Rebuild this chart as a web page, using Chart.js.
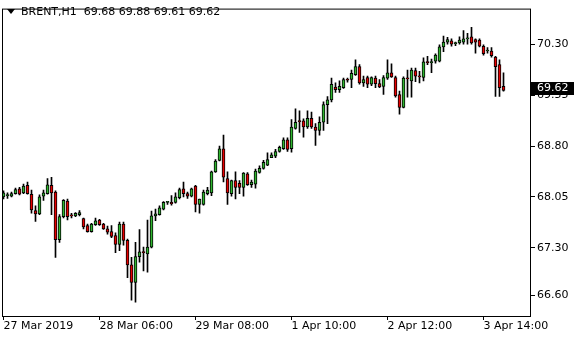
<!DOCTYPE html>
<html>
<head>
<meta charset="utf-8">
<script src="https://cdn.jsdelivr.net/npm/chart.js@4.4.1/dist/chart.umd.min.js"></script>
<style>
  html, body { margin: 0; padding: 0; background: #fff; }
</style>
</head>
<body>
<canvas id="grafico" width="580" height="340"></canvas>
<script>
// Velas H1 de BRENT (apertura, maximo, minimo, cierre)
const aperturas = [
  68.05, 68.07, 68.06, 68.10, 68.17, 68.11, 68.22, 68.09, 67.85, 67.80,
  68.06, 68.10, 68.22, 68.12, 67.42, 67.76, 67.99, 67.78, 67.77, 67.79,
  67.73, 67.63, 67.54, 67.64, 67.71, 67.65, 67.58, 67.54, 67.48, 67.35,
  67.65, 67.41, 67.05, 66.79, 67.17, 67.24, 67.21, 67.31, 67.77, 67.79,
  67.87, 67.97, 67.97, 67.97, 68.04, 68.17, 68.10, 68.06, 68.21, 67.94,
  67.94, 68.10, 68.11, 68.42, 68.59, 68.76, 68.32, 68.10, 68.29, 68.25,
  68.19, 68.39, 68.23, 68.24, 68.41, 68.47, 68.52, 68.63, 68.65, 68.72,
  68.76, 68.89, 68.76, 69.06, 69.17, 69.17, 69.08, 69.21, 69.08, 69.03,
  69.15, 69.41, 69.48, 69.67, 69.63, 69.66, 69.78, 69.78, 69.85, 69.97,
  69.73, 69.81, 69.71, 69.80, 69.72, 69.68, 69.80, 69.88, 69.81, 69.56,
  69.37, 69.80, 69.76, 69.91, 69.83, 69.81, 70.04, 70.03, 70.05, 70.05,
  70.26, 70.33, 70.35, 70.31, 70.32, 70.33, 70.38, 70.41, 70.37, 70.36,
  70.27, 70.20, 70.20, 70.11, 70.00, 69.68
];
const maximos = [
  68.14, 68.11, 68.12, 68.18, 68.19, 68.24, 68.27, 68.15, 67.92, 68.08,
  68.15, 68.32, 68.34, 68.14, 67.79, 68.01, 68.02, 67.81, 67.82, 67.85,
  67.74, 67.65, 67.66, 67.74, 67.72, 67.66, 67.62, 67.63, 67.52, 67.68,
  67.68, 67.43, 67.16, 67.38, 67.57, 67.31, 67.71, 67.84, 67.87, 67.92,
  67.98, 67.98, 68.07, 68.11, 68.18, 68.27, 68.12, 68.18, 68.22, 68.02,
  68.15, 68.19, 68.43, 68.60, 68.80, 68.96, 68.42, 68.30, 68.42, 68.29,
  68.41, 68.41, 68.30, 68.46, 68.51, 68.59, 68.70, 68.70, 68.75, 68.80,
  68.92, 68.92, 69.19, 69.35, 69.32, 69.20, 69.32, 69.30, 69.13, 69.23,
  69.45, 69.53, 69.80, 69.73, 69.76, 69.80, 69.80, 69.92, 70.07, 70.00,
  69.83, 69.83, 69.82, 69.83, 69.78, 69.84, 70.07, 70.01, 69.83, 69.61,
  69.82, 69.92, 69.95, 69.95, 69.90, 70.10, 70.12, 70.08, 70.16, 70.29,
  70.42, 70.40, 70.38, 70.33, 70.41, 70.50, 70.46, 70.55, 70.38, 70.38,
  70.29, 70.25, 70.25, 70.12, 70.07, 69.88
];
const minimos = [
  68.02, 68.03, 68.05, 68.09, 68.08, 68.10, 68.09, 67.81, 67.69, 67.79,
  68.00, 68.09, 67.79, 67.16, 67.38, 67.74, 67.71, 67.74, 67.76, 67.77,
  67.58, 67.53, 67.53, 67.63, 67.63, 67.57, 67.50, 67.45, 67.23, 67.26,
  67.34, 66.86, 66.53, 66.50, 67.09, 66.96, 66.94, 67.30, 67.70, 67.78,
  67.86, 67.94, 67.93, 67.96, 68.02, 68.05, 68.03, 68.05, 67.83, 67.81,
  67.93, 68.08, 68.07, 68.41, 68.58, 68.27, 67.94, 68.06, 68.02, 68.10,
  68.06, 68.22, 68.19, 68.18, 68.40, 68.46, 68.51, 68.63, 68.63, 68.71,
  68.75, 68.72, 68.71, 69.05, 69.00, 68.93, 69.06, 69.06, 68.81, 68.96,
  69.03, 69.13, 69.45, 69.59, 69.59, 69.65, 69.74, 69.66, 69.84, 69.71,
  69.68, 69.66, 69.69, 69.66, 69.66, 69.56, 69.78, 69.81, 69.52, 69.27,
  69.36, 69.52, 69.52, 69.75, 69.73, 69.76, 70.00, 69.88, 70.02, 70.04,
  70.19, 70.30, 70.27, 70.28, 70.30, 70.30, 70.30, 70.30, 70.17, 70.26,
  70.14, 70.17, 70.11, 69.53, 69.53, 69.61
];
const cierres = [
  68.11, 68.08, 68.10, 68.16, 68.09, 68.21, 68.10, 67.86, 67.80, 68.05,
  68.11, 68.23, 68.11, 67.42, 67.76, 68.00, 67.76, 67.77, 67.81, 67.82,
  67.61, 67.54, 67.65, 67.70, 67.64, 67.58, 67.53, 67.47, 67.35, 67.65,
  67.41, 67.05, 66.79, 67.17, 67.24, 67.23, 67.31, 67.77, 67.80, 67.89,
  67.97, 67.975, 67.95, 68.05, 68.16, 68.10, 68.06, 68.17, 67.94, 68.02,
  68.12, 68.15, 68.42, 68.58, 68.76, 68.34, 68.11, 68.29, 68.19, 68.19,
  68.40, 68.23, 68.27, 68.43, 68.47, 68.56, 68.60, 68.67, 68.72, 68.78,
  68.89, 68.75, 69.08, 69.15, 69.16, 69.08, 69.21, 69.08, 69.03, 69.15,
  69.41, 69.48, 69.71, 69.63, 69.68, 69.78, 69.77, 69.87, 69.97, 69.73,
  69.78, 69.71, 69.81, 69.72, 69.67, 69.81, 69.88, 69.82, 69.54, 69.37,
  69.80, 69.79, 69.92, 69.83, 69.82, 70.04, 70.03, 70.035, 70.14, 70.26,
  70.33, 70.37, 70.30, 70.31, 70.36, 70.38, 70.38, 70.32, 70.33, 70.27,
  70.16, 70.20, 70.13, 69.97, 69.66, 69.62
];

// Etiquetas del eje de tiempo (indice de vela y texto)
const marcasX = [0, 24, 48, 72, 96, 120];
const textosX = ["27 Mar 2019", "28 Mar 06:00", "29 Mar 08:00", "1 Apr 10:00", "2 Apr 12:00", "3 Apr 14:00"];
// Niveles del eje de precios
const marcasY = [66.60, 67.30, 68.05, 68.80, 69.55, 70.30];

const simbolo = "BRENT,H1";
const precioActual = 69.62;

const VERDE = "#2fb52f";
const ROJO = "#e60000";
const FUENTE = "DejaVu Sans";

const indices = aperturas.map((_, i) => i);
const cuerpos = indices.map(i => ({ x: i, y: [aperturas[i], cierres[i]] }));
const mechas = indices.map(i => ({ x: i, y: [minimos[i], maximos[i]] }));
const colores = indices.map(i => cierres[i] >= aperturas[i] ? VERDE : ROJO);

// Marco, cabecera y etiqueta del precio actual
const decorado = {
    id: "decorado",
    afterDraw(chart) {
        const ctx = chart.ctx;
        const a = chart.chartArea;
        ctx.save();
        ctx.strokeStyle = "#000";
        ctx.lineWidth = 1;
        ctx.strokeRect(a.left + 0.5, a.top + 0.5, a.right - a.left - 1, a.bottom - a.top);

        // triangulo de la cabecera
        ctx.fillStyle = "#000";
        ctx.beginPath();
        ctx.moveTo(7, 9);
        ctx.lineTo(15, 9);
        ctx.lineTo(11, 14);
        ctx.closePath();
        ctx.fill();

        const n = aperturas.length - 1;
        const cab = simbolo + "  " + [aperturas[n], maximos[n], minimos[n], cierres[n]].map(v => v.toFixed(2)).join(" ");
        ctx.font = "11px '" + FUENTE + "'";
        ctx.textBaseline = "middle";
        ctx.textAlign = "left";
        ctx.fillText(cab, 21, 12.5);

        // precio actual
        const yp = Math.round(chart.scales.y.getPixelForValue(precioActual));
        ctx.fillStyle = "#000";
        ctx.fillRect(a.right, yp - 8, 43, 13);
        ctx.fillStyle = "#fff";
        ctx.fillText(precioActual.toFixed(2), a.right + 6, yp - 1.5);
        ctx.restore();
    }
};

new Chart(document.getElementById("grafico"), {
    type: "bar",
    data: {
        datasets: [
            {
                data: mechas,
                backgroundColor: "#000",
                borderWidth: 0,
                barThickness: 1,
                grouped: false,
                order: 2
            },
            {
                data: cuerpos,
                backgroundColor: colores,
                borderColor: "#000",
                borderWidth: 1,
                borderSkipped: false,
                barThickness: 3,
                minBarLength: 1,
                grouped: false,
                order: 1
            }
        ]
    },
    options: {
        responsive: false,
        animation: false,
        layout: { padding: { left: 2, top: 3, right: 0, bottom: 0 } },
        plugins: { legend: { display: false }, tooltip: { enabled: false } },
        scales: {
            x: {
                type: "linear",
                min: -0.375,
                max: 131.875,
                offset: false,
                afterBuildTicks: s => { s.ticks = marcasX.map(v => ({ value: v })); },
                afterFit: s => { s.height = 24; },
                grid: { display: true, offset: false, drawOnChartArea: false, drawTicks: true, tickLength: 4, tickColor: "#000" },
                border: { display: false },
                ticks: {
                    align: "start",
                    maxRotation: 0,
                    autoSkip: false,
                    padding: 0,
                    color: "#000",
                    font: { family: FUENTE, size: 11 },
                    callback: v => textosX[marcasX.indexOf(Math.round(v))]
                }
            },
            y: {
                position: "right",
                min: 66.296,
                max: 70.825,
                afterBuildTicks: s => { s.ticks = marcasY.map(v => ({ value: v })); },
                afterFit: s => { s.width = 49; },
                grid: { display: true, drawOnChartArea: false, drawTicks: true, tickLength: 4, tickColor: "#000" },
                border: { display: false },
                ticks: {
                    padding: 2,
                    color: "#000",
                    font: { family: FUENTE, size: 11 },
                    callback: v => Number(v).toFixed(2)
                }
            }
        }
    },
    plugins: [decorado]
});
</script>
</body>
</html>
